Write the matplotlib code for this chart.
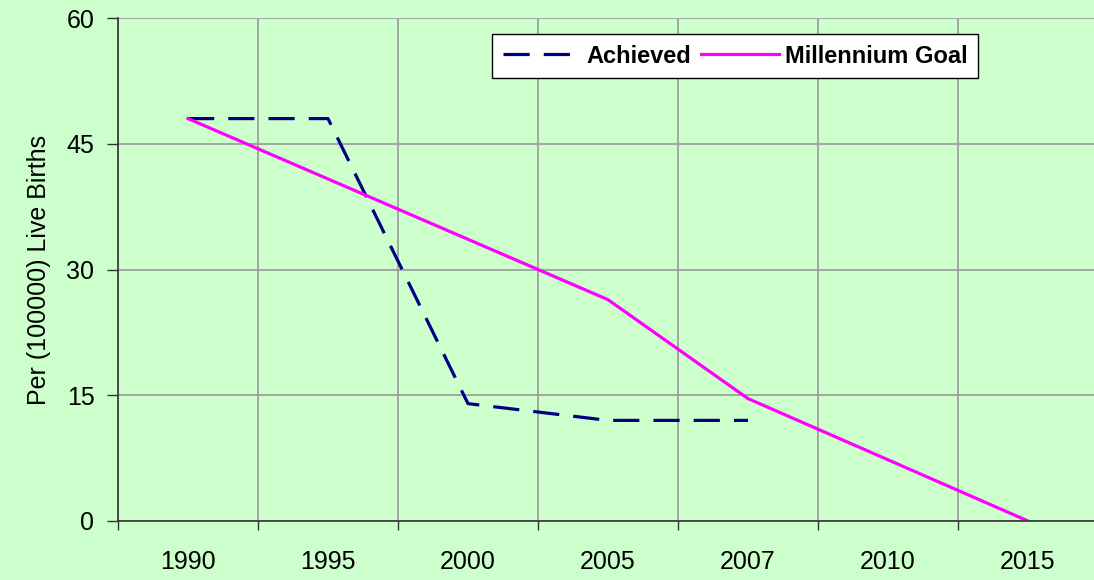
import matplotlib.pyplot as plt
import numpy as np

# Data
years = ["1990", "1995", "2000", "2005", "2007", "2010", "2015"]
achieved = [48, 48, 14, 12, 12]
goal = [48, 40.8, 33.6, 26.4, 14.6, 7.3, 0]

bg = "#CCFFCC"
plt.rcParams["font.family"] = ["Liberation Sans", "DejaVu Sans"]

fig = plt.figure(figsize=(10.94, 5.8), dpi=100, facecolor=bg)
ax = fig.add_axes([118 / 1094, 59 / 580, 980 / 1094, 503 / 580])
ax.set_facecolor(bg)

x = np.arange(len(years))
lw = 2.3
ax.plot(x[:len(achieved)], achieved, color="#000080", lw=lw,
        linestyle=(0, (8.2, 4.4)), dash_capstyle="butt", label="Achieved")
ax.plot(x, goal, color="#FF00FF", lw=lw, label="Millennium Goal")

ax.set_xlim(-0.5, len(years) - 0.5)
ax.set_ylim(0, 60)
ax.set_yticks([0, 15, 30, 45, 60])

# category labels at centres, tick marks and grid at boundaries
ax.set_xticks(x)
ax.set_xticklabels(years)
ax.set_xticks(np.arange(len(years) + 1) - 0.5, minor=True)
ax.tick_params(axis="x", which="major", length=0, pad=21, labelsize=18)
ax.tick_params(axis="x", which="minor", length=6.5, width=1, color="#333333", direction="out")
ax.tick_params(axis="y", length=8, width=1, color="#333333", labelsize=18, pad=9)

ax.grid(True, axis="y", color="#999999", lw=1.2)
ax.grid(True, axis="x", which="minor", color="#999999", lw=1.2)
ax.set_axisbelow(True)

for side in ["top", "right"]:
    ax.spines[side].set_visible(False)
for side in ["left", "bottom"]:
    ax.spines[side].set_color("#333333")
    ax.spines[side].set_linewidth(1.2)

ax.set_ylabel("Per (100000) Live Births", fontsize=18, labelpad=11)

leg = ax.legend(loc="upper left", bbox_to_anchor=(492 / 1094, 1 - 34 / 580),
                bbox_transform=fig.transFigure, ncol=2, frameon=True,
                fancybox=False, handlelength=3.3, handletextpad=0.25,
                columnspacing=0.42, borderpad=0.45, borderaxespad=0,
                prop={"weight": "bold", "size": 17})
leg.get_frame().set_edgecolor("black")
leg.get_frame().set_linewidth(1)
leg.get_frame().set_facecolor("white")
leg.get_frame().set_alpha(1)

fig.savefig("out.png", dpi=100, facecolor=bg)
